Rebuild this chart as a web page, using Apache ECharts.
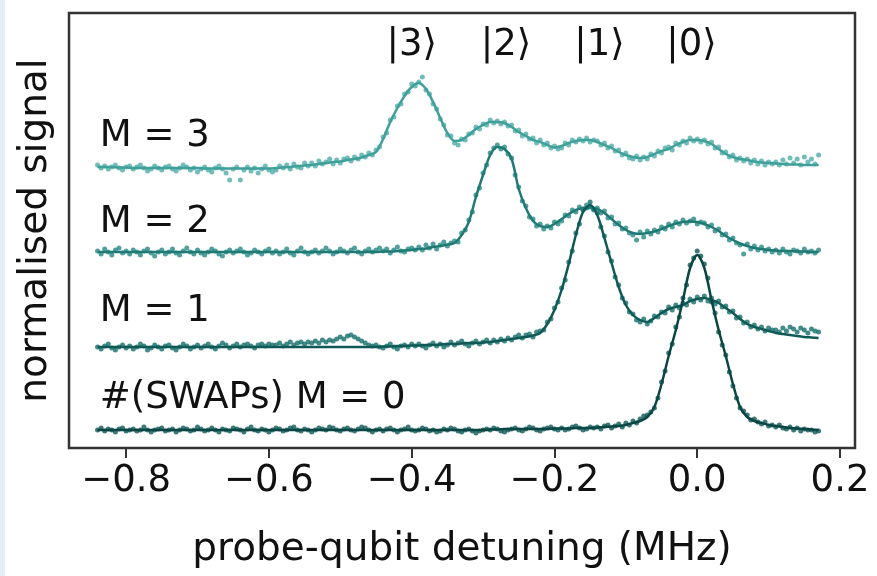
<!DOCTYPE html>
<html>
<head>
<meta charset="utf-8">
<script src="https://cdn.jsdelivr.net/npm/echarts@6/dist/echarts.min.js"></script>
<style>
  html, body { margin: 0; padding: 0; background: #fff; }
  #chart { width: 877px; height: 576px; }
</style>
</head>
<body>
<div id="chart"></div>
<script>
// probe-qubit spectra after M SWAPs, traces offset vertically (arb. units)
const tickValues = [-0.8, -0.6, -0.4, -0.2, 0, 0.2]

const traceLabels = ['M = 3', 'M = 2', 'M = 1', '#(SWAPs) M = 0']
const traceLabelX = -0.837
const traceLabelY = [312, 226, 137, 50]

const ketLabels = ['|3\u27e9', '|2\u27e9', '|1\u27e9', '|0\u27e9']
const ketX = [-0.40, -0.268, -0.137, -0.008]
const ketY = 403

const pointColors = ['#4fada8', '#268884', '#146e6a', '#0e5855']
const lineColors = ['#3f9f9a', '#1f7a76', '#0f5956', '#0a4644']

// measured points, 0.005 MHz spacing
const detuning = [
  -0.840, -0.835, -0.830, -0.825, -0.820, -0.815, -0.810, -0.805, -0.800, -0.795,
  -0.790, -0.785, -0.780, -0.775, -0.770, -0.765, -0.760, -0.755, -0.750, -0.745,
  -0.740, -0.735, -0.730, -0.725, -0.720, -0.715, -0.710, -0.705, -0.700, -0.695,
  -0.690, -0.685, -0.680, -0.675, -0.670, -0.665, -0.660, -0.655, -0.650, -0.645,
  -0.640, -0.635, -0.630, -0.625, -0.620, -0.615, -0.610, -0.605, -0.600, -0.595,
  -0.590, -0.585, -0.580, -0.575, -0.570, -0.565, -0.560, -0.555, -0.550, -0.545,
  -0.540, -0.535, -0.530, -0.525, -0.520, -0.515, -0.510, -0.505, -0.500, -0.495,
  -0.490, -0.485, -0.480, -0.475, -0.470, -0.465, -0.460, -0.455, -0.450, -0.445,
  -0.440, -0.435, -0.430, -0.425, -0.420, -0.415, -0.410, -0.405, -0.400, -0.395,
  -0.390, -0.385, -0.380, -0.375, -0.370, -0.365, -0.360, -0.355, -0.350, -0.345,
  -0.340, -0.335, -0.330, -0.325, -0.320, -0.315, -0.310, -0.305, -0.300, -0.295,
  -0.290, -0.285, -0.280, -0.275, -0.270, -0.265, -0.260, -0.255, -0.250, -0.245,
  -0.240, -0.235, -0.230, -0.225, -0.220, -0.215, -0.210, -0.205, -0.200, -0.195,
  -0.190, -0.185, -0.180, -0.175, -0.170, -0.165, -0.160, -0.155, -0.150, -0.145,
  -0.140, -0.135, -0.130, -0.125, -0.120, -0.115, -0.110, -0.105, -0.100, -0.095,
  -0.090, -0.085, -0.080, -0.075, -0.070, -0.065, -0.060, -0.055, -0.050, -0.045,
  -0.040, -0.035, -0.030, -0.025, -0.020, -0.015, -0.010, -0.005, 0.000, 0.005,
  0.010, 0.015, 0.020, 0.025, 0.030, 0.035, 0.040, 0.045, 0.050, 0.055,
  0.060, 0.065, 0.070, 0.075, 0.080, 0.085, 0.090, 0.095, 0.100, 0.105,
  0.110, 0.115, 0.120, 0.125, 0.130, 0.135, 0.140, 0.145, 0.150, 0.155,
  0.160, 0.165, 0.170
]

const pointsM3 = [
  283, 280, 282, 279, 281, 283, 280, 278, 281, 282,
  279, 281, 283, 280, 277, 279, 282, 280, 278, 281,
  282, 279, 277, 280, 283, 281, 278, 280, 276, 279,
  281, 278, 276, 280, 282, 279, 275, 268, 279, 281,
  268, 278, 281, 277, 280, 275, 279, 282, 278, 276,
  278, 282, 280, 283, 279, 284, 281, 280, 285, 282,
  285, 282, 287, 284, 286, 289, 284, 288, 285, 289,
  290, 287, 291, 289, 293, 291, 295, 293, 298, 301,
  311, 315, 328, 331, 342, 344, 354, 356, 364, 362,
  366, 371, 358, 354, 344, 339, 329, 323, 313, 312,
  305, 303, 309, 308, 314, 315, 321, 319, 324, 323,
  328, 325, 327, 324, 326, 322, 323, 317, 318, 312,
  314, 309, 310, 305, 308, 303, 305, 300, 302, 299,
  300, 305, 303, 308, 306, 309, 307, 310, 306, 308,
  307, 303, 305, 300, 302, 297, 298, 293, 295, 290,
  289, 292, 288, 291, 289, 294, 292, 297, 295, 300,
  301, 298, 305, 303, 307, 305, 310, 307, 309, 306,
  308, 304, 306, 300, 301, 295, 296, 291, 293, 288,
  290, 287, 289, 285, 288, 284, 287, 283, 286, 284,
  286, 283, 288, 284, 290, 285, 289, 283, 291, 286,
  289, 284, 293
]

const pointsM2 = [
  197, 194, 199, 196, 193, 198, 200, 195, 197, 194,
  198, 196, 193, 197, 199, 195, 192, 196, 198, 194,
  196, 199, 195, 193, 197, 200, 196, 194, 198, 195,
  193, 196, 199, 197, 194, 192, 196, 198, 195, 197,
  199, 196, 193, 195, 198, 196, 194, 197, 199, 195,
  197, 194, 196, 199, 195, 193, 197, 200, 196, 194,
  196, 198, 195, 197, 200, 197, 194, 196, 199, 197,
  195, 198, 200, 196, 194, 197, 199, 196, 198, 200,
  197, 199, 195, 198, 201, 197, 196, 199, 200, 198,
  201, 198, 203, 200, 204, 199, 203, 206, 202, 205,
  207, 206, 215, 218, 228, 236, 253, 260, 275, 283,
  295, 300, 303, 299, 301, 294, 290, 273, 261, 247,
  242, 231, 229, 222, 224, 219, 222, 220, 226, 224,
  227, 233, 232, 238, 236, 241, 239, 243, 241, 238,
  240, 235, 237, 230, 231, 224, 225, 219, 220, 215,
  213, 208, 216, 211, 217, 214, 218, 216, 221, 219,
  224, 221, 226, 224, 228, 225, 227, 229, 224, 226,
  225, 221, 223, 217, 219, 213, 214, 208, 210, 205,
  203, 194, 204, 199, 202, 198, 201, 197, 199, 196,
  198, 195, 199, 196, 194, 198, 197, 195, 199, 196,
  197, 195, 198
]

const pointsM1 = [
  101, 99, 102, 104, 100, 98, 101, 103, 100, 102,
  99, 101, 104, 102, 98, 100, 103, 101, 99, 102,
  103, 100, 98, 101, 104, 102, 99, 101, 103, 100,
  102, 104, 101, 99, 102, 105, 103, 100, 102, 104,
  101, 103, 104, 102, 100, 103, 104, 102, 104, 103,
  103, 105, 102, 104, 106, 103, 105, 106, 104, 106,
  105, 107, 105, 108, 106, 108, 107, 109, 111, 109,
  112, 113, 111, 109, 107, 105, 103, 102, 103, 101,
  100, 102, 104, 101, 99, 102, 103, 101, 104, 102,
  104, 102, 100, 103, 105, 102, 104, 101, 103, 106,
  103, 105, 107, 104, 102, 105, 107, 104, 106, 108,
  105, 108, 106, 109, 107, 110, 108, 111, 113, 110,
  113, 114, 111, 116, 117, 118, 126, 129, 140, 146,
  160, 168, 186, 197, 215, 224, 238, 240, 246, 239,
  235, 221, 212, 196, 187, 171, 163, 150, 145, 136,
  134, 128, 126, 129, 124, 127, 132, 131, 136, 135,
  141, 138, 143, 140, 145, 143, 149, 146, 151, 148,
  152, 147, 150, 144, 147, 141, 142, 136, 137, 130,
  131, 125, 126, 121, 123, 119, 121, 117, 120, 118,
  118, 116, 120, 117, 121, 119, 116, 120, 118, 115,
  119, 117, 116
]

const pointsM0 = [
  18, 20, 17, 19, 18, 16, 19, 20, 17, 18,
  19, 17, 18, 21, 18, 16, 18, 19, 20, 17,
  18, 19, 16, 18, 20, 19, 17, 18, 21, 19,
  17, 18, 20, 18, 16, 19, 18, 17, 20, 19,
  18, 16, 19, 21, 18, 17, 19, 18, 16, 18,
  20, 19, 17, 18, 20, 21, 18, 17, 19, 18,
  16, 18, 20, 19, 18, 21, 20, 18, 17, 19,
  20, 18, 17, 19, 21, 20, 18, 16, 18, 19,
  17, 19, 20, 18, 16, 18, 19, 21, 18, 17,
  18, 20, 19, 17, 18, 16, 17, 19, 18, 20,
  19, 17, 16, 18, 19, 17, 15, 17, 18, 19,
  18, 20, 19, 17, 16, 18, 19, 20, 18, 17,
  19, 21, 20, 18, 17, 19, 20, 21, 19, 18,
  20, 18, 19, 21, 22, 20, 18, 19, 21, 20,
  21, 19, 22, 23, 20, 22, 24, 21, 25, 23,
  27, 25, 29, 32, 33, 36, 40, 50, 66, 77,
  95, 104, 121, 131, 150, 163, 183, 190, 197, 192,
  184, 170, 146, 135, 116, 103, 93, 76, 62, 50,
  40, 37, 33, 28, 29, 26, 24, 26, 22, 23,
  21, 23, 20, 19, 21, 18, 20, 17, 19, 18,
  18, 16, 17
]

// fitted curves, 0.01 MHz spacing
const fitX = [
  -0.84, -0.83, -0.82, -0.81, -0.80, -0.79, -0.78, -0.77, -0.76, -0.75,
  -0.74, -0.73, -0.72, -0.71, -0.70, -0.69, -0.68, -0.67, -0.66, -0.65,
  -0.64, -0.63, -0.62, -0.61, -0.60, -0.59, -0.58, -0.57, -0.56, -0.55,
  -0.54, -0.53, -0.52, -0.51, -0.50, -0.49, -0.48, -0.47, -0.46, -0.45,
  -0.44, -0.43, -0.42, -0.41, -0.40, -0.39, -0.38, -0.37, -0.36, -0.35,
  -0.34, -0.33, -0.32, -0.31, -0.30, -0.29, -0.28, -0.27, -0.26, -0.25,
  -0.24, -0.23, -0.22, -0.21, -0.20, -0.19, -0.18, -0.17, -0.16, -0.15,
  -0.14, -0.13, -0.12, -0.11, -0.10, -0.09, -0.08, -0.07, -0.06, -0.05,
  -0.04, -0.03, -0.02, -0.01, 0.00, 0.01, 0.02, 0.03, 0.04, 0.05,
  0.06, 0.07, 0.08, 0.09, 0.10, 0.11, 0.12, 0.13, 0.14, 0.15,
  0.16, 0.17
]

const fitM3 = [
  281, 281, 281, 280.5, 280.5, 280, 280, 280, 280, 280,
  280, 280, 280, 280, 280, 279.5, 279.5, 279.5, 279.5, 279.5,
  279.5, 279.5, 279.5, 279.5, 279.5, 280, 280.5, 281, 282, 282.5,
  283, 284, 285, 286, 286.5, 288, 289, 290.5, 293, 296,
  309, 326, 340, 352, 361, 365, 359, 346, 330, 315,
  307, 308, 313, 319, 323, 326, 326, 325, 321, 316,
  312, 308, 306, 303, 300.5, 302, 305, 307, 308, 308,
  306, 303, 300, 296, 293, 291, 290, 291, 294, 297,
  299, 303, 306, 308, 308, 307, 304, 299, 294, 291,
  289, 288, 286.5, 285.5, 285, 284.5, 284, 283.5, 283.5, 283,
  283, 283
]

const fitM2 = [
  196, 196, 196, 196, 196, 196, 196, 196, 196, 196,
  196, 196, 196, 196, 196, 196, 196, 196, 196, 196,
  196, 196, 196, 196, 196, 196, 196, 196, 196, 196,
  196, 196, 196, 196, 196, 196, 196, 196, 196, 196,
  196.5, 196.5, 197, 197.5, 198, 199, 199.5, 201, 202, 203.5,
  205, 213, 226, 251, 273, 293, 301, 299, 289, 259,
  240, 227, 222, 221, 224, 229, 234, 238, 240, 240.5,
  239, 235, 229, 223, 218, 215, 214, 215, 216.5, 219,
  222, 224.5, 226, 226.5, 226, 224, 221, 217, 212, 208,
  204.5, 202, 200, 199, 198, 197.5, 197, 197, 196.5, 196.5,
  196, 196
]

const fitM1 = [
  101, 101, 101, 101, 101, 101, 101, 101, 101, 101,
  101, 101, 101, 101, 101, 101, 101, 101, 101, 101,
  101, 101, 101, 101, 101, 101, 101, 101, 101, 101,
  101, 101, 101, 101, 101, 101, 101, 101, 101, 101,
  101.5, 101.5, 102, 102, 102.5, 102.5, 103, 103, 103.5, 104,
  104, 104.5, 105, 105, 105.5, 106, 107, 108, 109, 110,
  111, 112.5, 115, 124, 138, 158, 184, 213, 236, 243,
  233, 210, 185, 161, 143, 133, 128, 126, 130, 135,
  139, 141, 143, 147, 149, 150, 148, 145, 140, 135,
  129, 124, 121, 119, 117, 115, 114, 113, 112, 111,
  110.5, 110
]

const fitM0 = [
  18, 18, 18, 18, 18, 18, 18, 18, 18, 18,
  18, 18, 18, 18, 18, 18, 18, 18, 18, 18,
  18, 18, 18, 18, 18, 18, 18, 18, 18, 18,
  18, 18, 18, 18, 18, 18, 18, 18, 18, 18,
  18, 18, 18, 18, 18, 18, 18, 18, 18, 18,
  18, 18, 18, 18, 18, 18.5, 18.5, 19, 19, 19,
  19, 19, 19, 19, 19.5, 19.5, 19.5, 20, 20, 20,
  20.5, 21, 21.5, 22, 23, 25, 27, 31, 41, 64,
  92, 118, 148, 180, 193, 180, 148, 118, 92, 64,
  41, 31, 27, 25, 23, 22, 21, 20, 19.5, 19,
  18.5, 18
]

const pointSets = [pointsM3, pointsM2, pointsM1, pointsM0]
const fitSets = [fitM3, fitM2, fitM1, fitM0]

const font = 'DejaVu Sans'
const textColor = '#111'
const chart = echarts.init(document.getElementById('chart'))

const series = []
pointSets.forEach((vals, k) => {
    series.push({
        type: 'scatter',
        data: detuning.map((x, i) => [x, vals[i]]),
        symbolSize: 5,
        itemStyle: { color: pointColors[k] },
        silent: true
    })
    series.push({
        type: 'line',
        data: fitX.map((x, i) => [x, fitSets[k][i]]),
        showSymbol: false,
        smooth: 0.3,
        lineStyle: { color: lineColors[k], width: 2.5 },
        silent: true
    })
})

chart.setOption({
    animation: false,
    backgroundColor: '#ffffff',
    grid: {
        left: 69, right: 22, top: 13, bottom: 128,
        show: true, borderColor: '#333', borderWidth: 2.5
    },
    xAxis: {
        type: 'value',
        min: -0.88,
        max: 0.221,
        axisLine: { show: false },
        splitLine: { show: false },
        axisTick: {
            show: true, customValues: tickValues, length: 10,
            lineStyle: { color: '#333', width: 2 }
        },
        axisLabel: {
            customValues: tickValues, margin: 15, fontSize: 37, fontFamily: font, color: textColor,
            formatter: v => (v < 0 ? '\u2212' : '') + Math.abs(v).toFixed(1)
        },
        name: 'probe-qubit detuning (MHz)',
        nameLocation: 'middle',
        nameGap: 82,
        nameTextStyle: { fontSize: 39, fontFamily: font, color: textColor }
    },
    yAxis: {
        type: 'value',
        min: 0,
        max: 435,
        axisLine: { show: false },
        axisTick: { show: false },
        axisLabel: { show: false },
        splitLine: { show: false },
        name: 'normalised signal',
        nameLocation: 'middle',
        nameGap: 14,
        nameTextStyle: { fontSize: 39, fontFamily: font, color: textColor }
    },
    series
})

// annotations placed through the axes
const toPx = (x, y) => chart.convertToPixel({ gridIndex: 0 }, [x, y])
const graphics = [{
    type: 'rect',
    shape: { x: 0, y: 0, width: 5, height: 576 },
    style: { fill: '#e6edf7' },
    silent: true
}]
ketLabels.forEach((t, i) => {
    const p = toPx(ketX[i], ketY)
    graphics.push({
        type: 'text', x: p[0], y: p[1], silent: true,
        style: { text: t, font: '37px "DejaVu Sans"', fill: textColor, align: 'center', verticalAlign: 'middle' }
    })
})
traceLabels.forEach((t, i) => {
    const p = toPx(traceLabelX, traceLabelY[i])
    graphics.push({
        type: 'text', x: p[0], y: p[1], silent: true,
        style: { text: t, font: '37px "DejaVu Sans"', fill: textColor, align: 'left', verticalAlign: 'middle' }
    })
})
chart.setOption({ graphic: graphics })
</script>
</body>
</html>
